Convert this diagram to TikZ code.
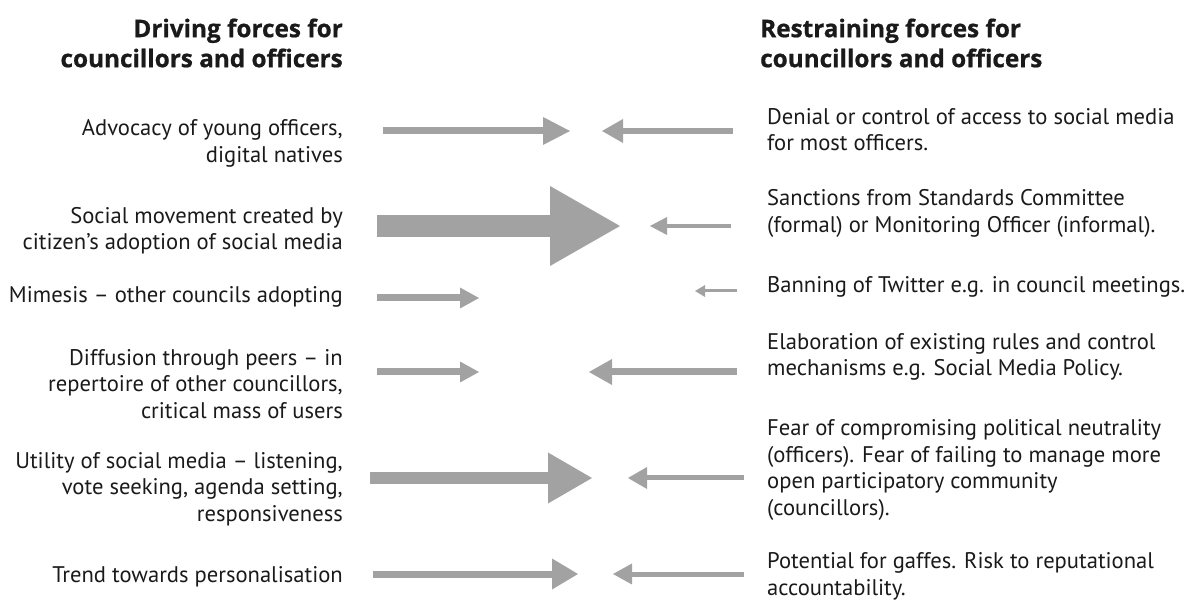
\documentclass[tikz,border=0pt]{standalone}
\usepackage{fontspec}
\setmainfont{PT Sans}
\newfontfamily\headfont{Open Sans}[BoldFeatures={FakeBold=0.8}]
\usetikzlibrary{arrows.meta}
\definecolor{forceGray}{HTML}{A2A2A2}
\definecolor{inkBlack}{HTML}{1A1A1A}
\tikzset{
    heading/.style={font=\headfont\fontsize{24.3}{30}\selectfont\bfseries,text=inkBlack,
        inner sep=0pt,align=left},
    driving/.style={font=\fontsize{22.6}{26.5}\selectfont,text=inkBlack,
        inner sep=0pt,align=right,anchor=east},
    restraining/.style={font=\fontsize{22.6}{26.5}\selectfont,text=inkBlack,
        inner sep=0pt,align=left,anchor=west},
    force/.style n args={3}{draw=forceGray,line width=#1,
        -{Triangle[length=#2,width=#3,line width=0pt]}}
}

\begin{document}
\begin{tikzpicture}[x=1pt,y=-1pt]
    \useasboundingbox (0,0) rectangle (1195,601);

    % column headings
    \node[heading,align=right,anchor=east] (dhead) at (343,43)
        {Driving forces for\\councillors and officers};
    \node[heading,anchor=west] (rhead) at (760,43)
        {Restraining forces for\\councillors and officers};

    % driving forces
    \node[driving] (dadv) at (343,143.5) {Advocacy of young officers,\\digital natives};
    \node[driving] (dsoc) at (343,230.5) {Social movement created by\\citizen’s adoption of social media};
    \node[driving] (dmim) at (343,297) {Mimesis -- other councils adopting};
    \node[driving] (ddif) at (343,384)
        {Diffusion through peers -- in\\repertoire of other councillors,\\critical mass of users};
    \node[driving] (duti) at (343,489)
        {Utility of social media -- listening,\\vote seeking, agenda setting,\\responsiveness};
    \node[driving] (dtre) at (343,577) {Trend towards personalisation};

    % restraining forces
    \node[restraining] (rden) at (767,129.5)
        {Denial or control of access to social media\\for most officers.};
    \node[restraining] (rsan) at (767,213.5)
        {Sanctions from Standards Committee\\(formal) or Monitoring Officer (informal).};
    \node[restraining] (rban) at (767,287) {Banning of Twitter e.g. in council meetings.};
    \node[restraining] (rela) at (767,357)
        {Elaboration of existing rules and control\\mechanisms e.g. Social Media Policy.};
    \node[restraining] (rfea) at (767,470)
        {Fear of compromising political neutrality\\(officers). Fear of failing to manage more\\open participatory community\\(councillors).};
    \node[restraining] (rpot) at (767,576.5)
        {Potential for gaffes. Risk to reputational\\accountability.};

    % arrow ends, driving side
    \coordinate (da1) at (383,131);  \coordinate (db1) at (570,131);
    \coordinate (da2) at (377,226);  \coordinate (db2) at (620,226);
    \coordinate (da3) at (377,298);  \coordinate (db3) at (479,298);
    \coordinate (da4) at (377,372);  \coordinate (db4) at (479,372);
    \coordinate (da5) at (370,478);  \coordinate (db5) at (592,478);
    \coordinate (da6) at (373,574);  \coordinate (db6) at (578,574);

    % arrow ends, restraining side
    \coordinate (ra1) at (733,131);  \coordinate (rb1) at (602,131);
    \coordinate (ra2) at (731,226);  \coordinate (rb2) at (650,226);
    \coordinate (ra3) at (737,291);  \coordinate (rb3) at (695,291);
    \coordinate (ra4) at (737,372);  \coordinate (rb4) at (589,372);
    \coordinate (ra5) at (744,478);  \coordinate (rb5) at (628,478);
    \coordinate (ra6) at (744,574);  \coordinate (rb6) at (613,574);

    \draw[force={7pt}{27pt}{28pt}] (da1) -- (db1);
    \draw[force={22pt}{70pt}{80pt}] (da2) -- (db2);
    \draw[force={7pt}{19pt}{21pt}] (da3) -- (db3);
    \draw[force={7pt}{19pt}{21pt}] (da4) -- (db4);
    \draw[force={12pt}{44pt}{51pt}] (da5) -- (db5);
    \draw[force={7pt}{26pt}{31pt}] (da6) -- (db6);

    \draw[force={6pt}{21pt}{24pt}] (ra1) -- (rb1);
    \draw[force={4pt}{17pt}{18pt}] (ra2) -- (rb2);
    \draw[force={3pt}{10pt}{12pt}] (ra3) -- (rb3);
    \draw[force={7pt}{23pt}{26pt}] (ra4) -- (rb4);
    \draw[force={5pt}{19pt}{22pt}] (ra5) -- (rb5);
    \draw[force={5pt}{19pt}{21pt}] (ra6) -- (rb6);
\end{tikzpicture}
\end{document}
